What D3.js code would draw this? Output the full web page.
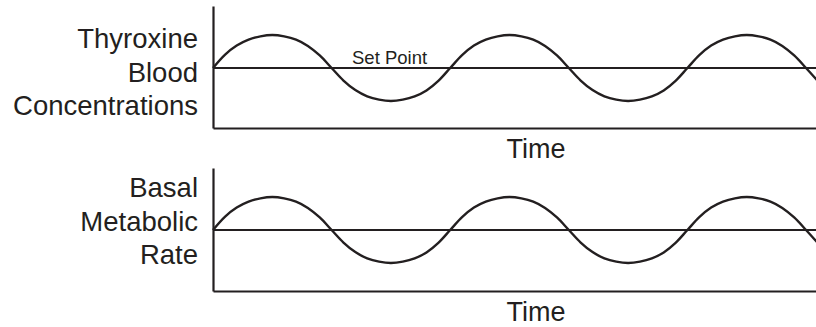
<!DOCTYPE html>
<html>
<head>
<meta charset="utf-8">
<script src="https://cdn.jsdelivr.net/npm/d3@7"></script>
<style>
  html, body { margin: 0; padding: 0; background: #fff; }
  svg { display: block; }
  text { font-family: "Liberation Sans", Arial, Helvetica, sans-serif; fill: #231f20; }
</style>
</head>
<body>
<svg id="chart" width="816" height="327"></svg>
<script>
// ---- data (0 = set point, +1 = peak, -1 = trough) ----
const timePoints = [0, 0.1, 0.2, 0.3, 0.4, 0.5, 0.6, 0.7, 0.8, 0.9,
                    1.0, 1.1, 1.2, 1.3, 1.4, 1.5, 1.6, 1.7, 1.8, 1.9,
                    2.0, 2.1, 2.2, 2.3, 2.4, 2.5, 2.6, 2.7, 2.8, 2.9,
                    3.0, 3.1, 3.2, 3.3, 3.4, 3.5, 3.6, 3.7, 3.8, 3.9,
                    4.0, 4.1, 4.2, 4.3, 4.4, 4.5, 4.6, 4.7, 4.8, 4.9,
                    5.0, 5.1];
const thyroxineValues = [0, 0.40, 0.68, 0.86, 0.96, 1.0, 0.96, 0.86, 0.67, 0.38,
                         0, -0.38, -0.67, -0.86, -0.96, -1.0, -0.96, -0.86, -0.68, -0.39,
                         0, 0.39, 0.68, 0.86, 0.96, 1.0, 0.96, 0.86, 0.67, 0.38,
                         0, -0.38, -0.67, -0.86, -0.96, -1.0, -0.96, -0.86, -0.68, -0.39,
                         0, 0.39, 0.68, 0.86, 0.96, 1.0, 0.96, 0.86, 0.67, 0.38,
                         0, -0.40];
const metabolicValues = [0, 0.40, 0.68, 0.86, 0.96, 1.0, 0.96, 0.86, 0.67, 0.38,
                         0, -0.38, -0.67, -0.86, -0.96, -1.0, -0.96, -0.86, -0.68, -0.39,
                         0, 0.39, 0.68, 0.86, 0.96, 1.0, 0.96, 0.86, 0.67, 0.38,
                         0, -0.38, -0.67, -0.86, -0.96, -1.0, -0.96, -0.86, -0.68, -0.39,
                         0, 0.39, 0.68, 0.86, 0.96, 1.0, 0.96, 0.86, 0.67, 0.38,
                         0, -0.40];
const setPoint = 0;
const topLabelLines = ["Thyroxine", "Blood", "Concentrations"];
const bottomLabelLines = ["Basal", "Metabolic", "Rate"];
const xLabel = "Time";
const setPointLabel = "Set Point";

// ---- layout ----
const ink = "#231f20";
const svg = d3.select("#chart");
const x = d3.scaleLinear().domain([0, 5.084]).range([213, 816]);

const panels = [
  { values: thyroxineValues, labels: topLabelLines, top: 6, bottom: 128, zero: 68, showSetPoint: true, timeY: 158, labelBase: 48 },
  { values: metabolicValues, labels: bottomLabelLines, top: 168, bottom: 291, zero: 230, showSetPoint: false, timeY: 321, labelBase: 197 }
];
const unit = 33; // px per value unit

panels.forEach(p => {
  const y = d3.scaleLinear()
    .domain([(p.zero - p.bottom) / unit, (p.zero - p.top) / unit])
    .range([p.bottom, p.top]);
  const g = svg.append("g");

  // axes (no ticks)
  g.append("g")
    .attr("transform", `translate(${x(0)},0)`)
    .call(d3.axisLeft(y).tickValues([]).tickSizeOuter(0))
    .call(a => a.select(".domain").attr("stroke", ink).attr("stroke-width", 2.2));
  g.append("g")
    .attr("transform", `translate(0,${p.bottom})`)
    .call(d3.axisBottom(x).tickValues([]).tickSizeOuter(0))
    .call(a => a.select(".domain").attr("stroke", ink).attr("stroke-width", 2.2));

  // set point line
  g.append("line")
    .attr("x1", x(0)).attr("x2", x(5.084))
    .attr("y1", y(setPoint)).attr("y2", y(setPoint))
    .attr("stroke", ink).attr("stroke-width", 2.2);

  // wave
  const line = d3.line()
    .x((d, i) => x(timePoints[i]))
    .y(d => y(d))
    .curve(d3.curveCatmullRom.alpha(0.5));
  g.append("path")
    .datum(p.values)
    .attr("d", line)
    .attr("fill", "none")
    .attr("stroke", ink)
    .attr("stroke-width", 2.4);

  // y label (multi-line, right aligned)
  p.labels.forEach((t, i) => {
    g.append("text")
      .attr("x", 198).attr("y", p.labelBase + i * 33.5)
      .attr("text-anchor", "end")
      .attr("font-size", 27.5)
      .text(t);
  });

  // x label
  g.append("text")
    .attr("x", 536).attr("y", p.timeY)
    .attr("text-anchor", "middle")
    .attr("font-size", 27)
    .text(xLabel);

  if (p.showSetPoint) {
    g.append("text")
      .attr("x", 352).attr("y", y(setPoint) - 4)
      .attr("font-size", 18.5)
      .text(setPointLabel);
  }
});
</script>
</body>
</html>
